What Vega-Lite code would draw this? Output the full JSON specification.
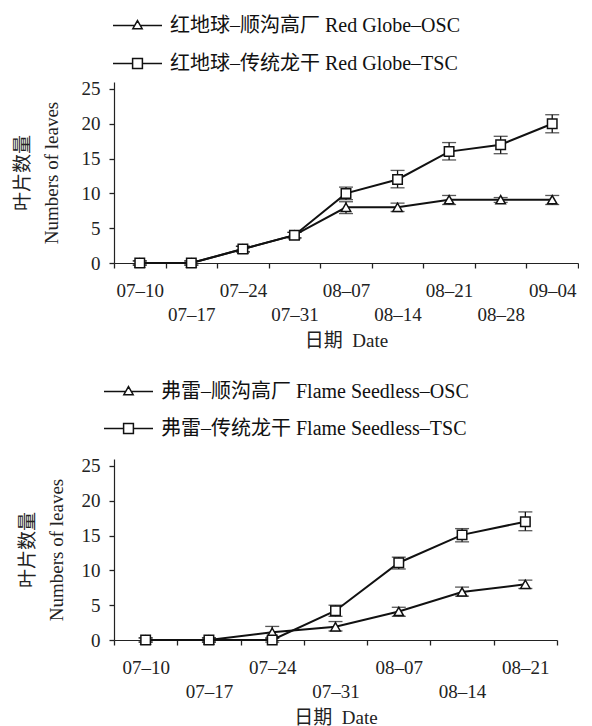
{
  "$schema": "https://vega.github.io/schema/vega-lite/v6.json",
  "background": "white",
  "padding": {"left": 13, "top": 0, "right": 0, "bottom": 0},
  "bounds": "flush",
  "spacing": 196,
  "resolve": {"scale": {"shape": "independent"}, "legend": {"shape": "independent"}},
  "config": {
    "view": {"stroke": null},
    "font": "Liberation Serif, Noto Sans CJK SC",
    "axis": {
      "grid": false,
      "domain": true,
      "domainColor": "#222",
      "domainWidth": 1.2,
      "ticks": true,
      "tickColor": "#222",
      "tickWidth": 1.3,
      "tickSize": 5,
      "labelColor": "#222",
      "labelFont": "Liberation Serif, Noto Sans CJK SC",
      "labelFontSize": 19,
      "titleColor": "#222",
      "titleFont": "Liberation Serif, Noto Sans CJK SC",
      "titleFontSize": 19,
      "titleFontWeight": "normal"
    },
    "axisY": {
      "values": [0, 5, 10, 15, 20, 25],
      "titleLineHeight": 29,
      "labelPadding": 9,
      "encode": {"ticks": {"x2": {"value": -5}}}
    },
    "axisX": {
      "encode": {"ticks": {"y2": {"value": -5}}}
    },
    "legend": {
      "orient": "none",
      "direction": "vertical",
      "padding": 0,
      "labelFont": "Liberation Serif, Noto Sans CJK SC",
      "labelFontSize": 20,
      "labelColor": "#111",
      "labelLimit": 500,
      "symbolSize": 2401,
      "symbolStrokeWidth": 1.5,
      "symbolStrokeColor": "#111",
      "symbolFillColor": "white",
      "symbolOpacity": 1,
      "labelOffset": 7
    }
  },
  "vconcat": [
    {
      "width": 464,
      "height": 181,
      "data": {
        "values": [
          {"date": "07–10", "series": "红地球–顺沟高厂 Red Globe–OSC", "mean": 0, "lo": -0.3, "hi": 0.3},
          {"date": "07–17", "series": "红地球–顺沟高厂 Red Globe–OSC", "mean": 0, "lo": -0.3, "hi": 0.3},
          {"date": "07–24", "series": "红地球–顺沟高厂 Red Globe–OSC", "mean": 2, "lo": 1.6, "hi": 2.4},
          {"date": "07–31", "series": "红地球–顺沟高厂 Red Globe–OSC", "mean": 4, "lo": 3.6, "hi": 4.4},
          {"date": "08–07", "series": "红地球–顺沟高厂 Red Globe–OSC", "mean": 8, "lo": 7.1, "hi": 8.8},
          {"date": "08–14", "series": "红地球–顺沟高厂 Red Globe–OSC", "mean": 8, "lo": 7.4, "hi": 8.6},
          {"date": "08–21", "series": "红地球–顺沟高厂 Red Globe–OSC", "mean": 9.1, "lo": 8.4, "hi": 9.7},
          {"date": "08–28", "series": "红地球–顺沟高厂 Red Globe–OSC", "mean": 9.1, "lo": 8.7, "hi": 9.4},
          {"date": "09–04", "series": "红地球–顺沟高厂 Red Globe–OSC", "mean": 9.1, "lo": 8.4, "hi": 9.7},
          {"date": "07–10", "series": "红地球–传统龙干 Red Globe–TSC", "mean": 0, "lo": -0.3, "hi": 0.3},
          {"date": "07–17", "series": "红地球–传统龙干 Red Globe–TSC", "mean": 0, "lo": -0.3, "hi": 0.3},
          {"date": "07–24", "series": "红地球–传统龙干 Red Globe–TSC", "mean": 2, "lo": 1.6, "hi": 2.4},
          {"date": "07–31", "series": "红地球–传统龙干 Red Globe–TSC", "mean": 4, "lo": 3.6, "hi": 4.4},
          {"date": "08–07", "series": "红地球–传统龙干 Red Globe–TSC", "mean": 10, "lo": 9.1, "hi": 10.9},
          {"date": "08–14", "series": "红地球–传统龙干 Red Globe–TSC", "mean": 12, "lo": 10.8, "hi": 13.3},
          {"date": "08–21", "series": "红地球–传统龙干 Red Globe–TSC", "mean": 16, "lo": 14.8, "hi": 17.3},
          {"date": "08–28", "series": "红地球–传统龙干 Red Globe–TSC", "mean": 17, "lo": 15.7, "hi": 18.2},
          {"date": "09–04", "series": "红地球–传统龙干 Red Globe–TSC", "mean": 20, "lo": 18.7, "hi": 21.3}
        ]
      },
      "encoding": {
        "x": {
          "field": "date",
          "type": "ordinal",
          "sort": null,
          "bandPosition": 0.5,
          "scale": {"type": "band", "paddingInner": 0, "paddingOuter": 0},
          "axis": {
            "title": "日期\u00a0\u00a0Date",
            "labelAngle": 0,
            "labelOverlap": false,
            "tickBand": "extent",
            "labelBaseline": "top",
            "labelLineHeight": 24,
            "labelPadding": 13,
            "titlePadding": 7,
            "labelExpr": "indexof(['07–17','07–31','08–14','08–28'], datum.value) >= 0 ? ['', datum.value] : datum.value"
          }
        }
      },
      "resolve": {"scale": {"shape": "independent"}, "legend": {"shape": "independent"}},
      "layer": [
        {
          "mark": {"type": "line", "color": "#111", "strokeWidth": 2},
          "encoding": {
            "y": {"field": "mean", "type": "quantitative", "scale": {"domain": [0, 25]}, "axis": {"title": ["叶片数量", "Numbers of leaves"], "titlePadding": 20}},
            "detail": {"field": "series", "type": "nominal"}
          }
        },
        {
          "mark": {"type": "rule", "color": "#111", "strokeWidth": 1.3},
          "encoding": {
            "y": {"field": "lo", "type": "quantitative", "axis": {"title": ["叶片数量", "Numbers of leaves"], "titlePadding": 20}},
            "y2": {"field": "hi"}
          }
        },
        {
          "mark": {"type": "tick", "color": "#111", "size": 14, "thickness": 1.3},
          "encoding": {"y": {"field": "lo", "type": "quantitative", "axis": {"title": ["叶片数量", "Numbers of leaves"], "titlePadding": 20}}}
        },
        {
          "mark": {"type": "tick", "color": "#111", "size": 14, "thickness": 1.3},
          "encoding": {"y": {"field": "hi", "type": "quantitative", "axis": {"title": ["叶片数量", "Numbers of leaves"], "titlePadding": 20}}}
        },
        {
          "mark": {"type": "point", "filled": true, "fill": "white", "stroke": "#111", "strokeWidth": 1.5, "size": 90, "opacity": 1},
          "encoding": {
            "y": {"field": "mean", "type": "quantitative", "axis": {"title": ["叶片数量", "Numbers of leaves"], "titlePadding": 20}},
            "shape": {
              "field": "series",
              "type": "nominal",
              "scale": {"domain": ["红地球–顺沟高厂 Red Globe–OSC", "红地球–传统龙干 Red Globe–TSC"], "range": ["triangle-up", "square"]},
              "legend": null
            }
          }
        },
        {
          "transform": [{"filter": "false"}],
          "mark": {"type": "point", "filled": false, "color": "#111", "strokeWidth": 1.5},
          "encoding": {
            "y": {"field": "mean", "type": "quantitative", "axis": {"title": ["叶片数量", "Numbers of leaves"], "titlePadding": 20}},
            "shape": {
              "field": "series",
              "type": "nominal",
              "scale": {
                "domain": ["红地球–顺沟高厂 Red Globe–OSC", "红地球–传统龙干 Red Globe–TSC"],
                "range": ["M-1,0H-0.12M0.12,0H1M0,-0.2L0.19,0.13L-0.19,0.13Z", "M-1,0H-0.2M0.2,0H1M-0.2,-0.2H0.2V0.2H-0.2Z"]
              },
              "legend": {"title": null, "legendX": -2, "legendY": -82, "rowPadding": 2}
            }
          }
        }
      ]
    },
    {
      "width": 443,
      "height": 181,
      "data": {
        "values": [
          {"date": "07–10", "series": "弗雷–顺沟高厂 Flame Seedless–OSC", "mean": 0, "lo": -0.3, "hi": 0.3},
          {"date": "07–17", "series": "弗雷–顺沟高厂 Flame Seedless–OSC", "mean": 0, "lo": -0.3, "hi": 0.3},
          {"date": "07–24", "series": "弗雷–顺沟高厂 Flame Seedless–OSC", "mean": 1.1, "lo": 0.25, "hi": 1.95},
          {"date": "07–31", "series": "弗雷–顺沟高厂 Flame Seedless–OSC", "mean": 1.9, "lo": 1.3, "hi": 2.65},
          {"date": "08–07", "series": "弗雷–顺沟高厂 Flame Seedless–OSC", "mean": 4.1, "lo": 3.4, "hi": 4.7},
          {"date": "08–14", "series": "弗雷–顺沟高厂 Flame Seedless–OSC", "mean": 6.9, "lo": 6.3, "hi": 7.6},
          {"date": "08–21", "series": "弗雷–顺沟高厂 Flame Seedless–OSC", "mean": 8, "lo": 7.4, "hi": 8.6},
          {"date": "07–10", "series": "弗雷–传统龙干 Flame Seedless–TSC", "mean": 0, "lo": -0.3, "hi": 0.3},
          {"date": "07–17", "series": "弗雷–传统龙干 Flame Seedless–TSC", "mean": 0, "lo": -0.3, "hi": 0.3},
          {"date": "07–24", "series": "弗雷–传统龙干 Flame Seedless–TSC", "mean": 0, "lo": -0.3, "hi": 0.3},
          {"date": "07–31", "series": "弗雷–传统龙干 Flame Seedless–TSC", "mean": 4.2, "lo": 3.4, "hi": 5.0},
          {"date": "08–07", "series": "弗雷–传统龙干 Flame Seedless–TSC", "mean": 11.1, "lo": 10.2, "hi": 11.9},
          {"date": "08–14", "series": "弗雷–传统龙干 Flame Seedless–TSC", "mean": 15.1, "lo": 14.1, "hi": 16.0},
          {"date": "08–21", "series": "弗雷–传统龙干 Flame Seedless–TSC", "mean": 17, "lo": 15.7, "hi": 18.4}
        ]
      },
      "encoding": {
        "x": {
          "field": "date",
          "type": "ordinal",
          "sort": null,
          "bandPosition": 0.5,
          "scale": {"type": "band", "paddingInner": 0, "paddingOuter": 0},
          "axis": {
            "title": "日期\u00a0\u00a0Date",
            "labelAngle": 0,
            "labelOverlap": false,
            "tickBand": "extent",
            "labelBaseline": "top",
            "labelLineHeight": 24,
            "labelPadding": 13,
            "titlePadding": 7,
            "labelExpr": "indexof(['07–17','07–31','08–14'], datum.value) >= 0 ? ['', datum.value] : datum.value"
          }
        }
      },
      "resolve": {"scale": {"shape": "independent"}, "legend": {"shape": "independent"}},
      "layer": [
        {
          "mark": {"type": "line", "color": "#111", "strokeWidth": 2},
          "encoding": {
            "y": {"field": "mean", "type": "quantitative", "scale": {"domain": [0, 25]}, "axis": {"title": ["叶片数量", "Numbers of leaves"], "titlePadding": 15}},
            "detail": {"field": "series", "type": "nominal"}
          }
        },
        {
          "mark": {"type": "rule", "color": "#111", "strokeWidth": 1.3},
          "encoding": {
            "y": {"field": "lo", "type": "quantitative", "axis": {"title": ["叶片数量", "Numbers of leaves"], "titlePadding": 15}},
            "y2": {"field": "hi"}
          }
        },
        {
          "mark": {"type": "tick", "color": "#111", "size": 14, "thickness": 1.3},
          "encoding": {"y": {"field": "lo", "type": "quantitative", "axis": {"title": ["叶片数量", "Numbers of leaves"], "titlePadding": 15}}}
        },
        {
          "mark": {"type": "tick", "color": "#111", "size": 14, "thickness": 1.3},
          "encoding": {"y": {"field": "hi", "type": "quantitative", "axis": {"title": ["叶片数量", "Numbers of leaves"], "titlePadding": 15}}}
        },
        {
          "mark": {"type": "point", "filled": true, "fill": "white", "stroke": "#111", "strokeWidth": 1.5, "size": 90, "opacity": 1},
          "encoding": {
            "y": {"field": "mean", "type": "quantitative", "axis": {"title": ["叶片数量", "Numbers of leaves"], "titlePadding": 15}},
            "shape": {
              "field": "series",
              "type": "nominal",
              "scale": {"domain": ["弗雷–顺沟高厂 Flame Seedless–OSC", "弗雷–传统龙干 Flame Seedless–TSC"], "range": ["triangle-up", "square"]},
              "legend": null
            }
          }
        },
        {
          "transform": [{"filter": "false"}],
          "mark": {"type": "point", "filled": false, "color": "#111", "strokeWidth": 1.5},
          "encoding": {
            "y": {"field": "mean", "type": "quantitative", "axis": {"title": ["叶片数量", "Numbers of leaves"], "titlePadding": 15}},
            "shape": {
              "field": "series",
              "type": "nominal",
              "scale": {
                "domain": ["弗雷–顺沟高厂 Flame Seedless–OSC", "弗雷–传统龙干 Flame Seedless–TSC"],
                "range": ["M-1,0H-0.12M0.12,0H1M0,-0.2L0.19,0.13L-0.19,0.13Z", "M-1,0H-0.2M0.2,0H1M-0.2,-0.2H0.2V0.2H-0.2Z"]
              },
              "legend": {"title": null, "legendX": -11, "legendY": -93, "rowPadding": 1}
            }
          }
        }
      ]
    }
  ]
}
